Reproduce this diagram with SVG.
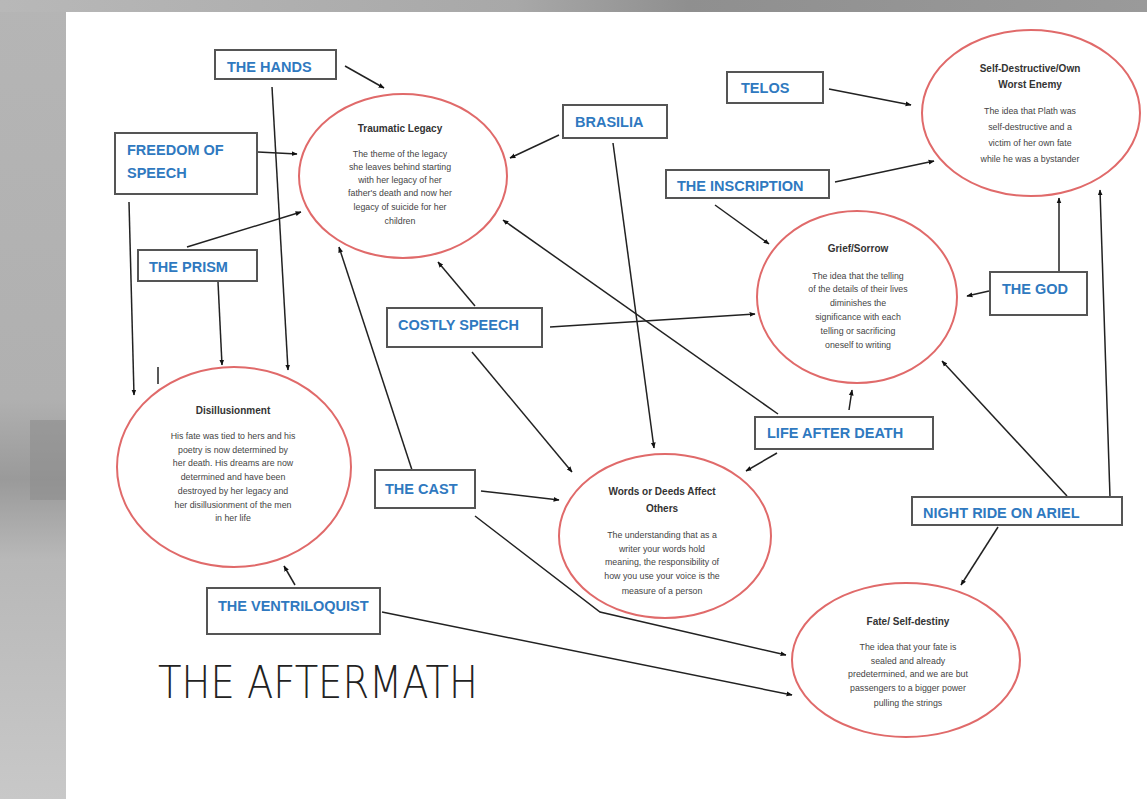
<svg xmlns="http://www.w3.org/2000/svg" width="1147" height="799" viewBox="0 0 1147 799">
<defs>
<marker id="ah" viewBox="0 0 10 10" refX="9" refY="5" markerWidth="6" markerHeight="6" orient="auto" markerUnits="userSpaceOnUse">
<path d="M0,1 L10,5 L0,9 z" fill="#111"/>
</marker>
<linearGradient id="topg" x1="0" y1="0" x2="1" y2="0">
<stop offset="0" stop-color="#b8b8b8"/><stop offset="0.45" stop-color="#a8a8a8"/><stop offset="0.6" stop-color="#8f8f8f"/><stop offset="1" stop-color="#9a9a9a"/>
</linearGradient>
<linearGradient id="leftg" x1="0" y1="0" x2="0" y2="1">
<stop offset="0" stop-color="#b5b5b5"/><stop offset="0.5" stop-color="#b0b0b0"/><stop offset="0.6" stop-color="#9a9a9a"/><stop offset="0.7" stop-color="#b8b8b8"/><stop offset="1" stop-color="#c8c8c8"/>
</linearGradient>
</defs>
<style>
.box{fill:#fff;stroke:#555;stroke-width:2}
.lbl{font-family:"Liberation Sans",Arial,sans-serif;font-weight:bold;font-size:14.5px;fill:#2f79c0}
.ell{fill:#fff;stroke:#e06a6a;stroke-width:2}
.ttl{font-family:"Liberation Sans",Arial,sans-serif;font-weight:bold;font-size:10px;fill:#333;text-anchor:middle}
.bd{font-family:"Liberation Sans",Arial,sans-serif;font-size:8.8px;fill:#444;text-anchor:middle}
.cn{stroke:#222;stroke-width:1.5;fill:none}
.ca{marker-end:url(#ah)}
</style>
<rect x="0" y="0" width="1147" height="799" fill="url(#leftg)"/>
<rect x="0" y="0" width="1147" height="12" fill="url(#topg)"/>
<rect x="30" y="420" width="36" height="80" fill="#8e8e8e" opacity="0.6"/>
<rect x="66" y="12" width="1081" height="787" fill="#fff"/>

<g id="connectors">
<line class="cn ca" x1="345" y1="66" x2="384" y2="88"/>
<line class="cn ca" x1="258" y1="152" x2="297" y2="154"/>
<line class="cn ca" x1="187" y1="247" x2="301" y2="212"/>
<line class="cn ca" x1="272" y1="87" x2="288" y2="370"/>
<line class="cn ca" x1="218" y1="282" x2="222" y2="365"/>
<line class="cn ca" x1="129" y1="202" x2="134" y2="395"/>
<line class="cn" x1="158" y1="367" x2="158" y2="384"/>
<line class="cn ca" x1="412" y1="470" x2="339" y2="247"/>
<line class="cn ca" x1="475" y1="306" x2="438" y2="262"/>
<line class="cn ca" x1="559" y1="135" x2="510" y2="158"/>
<line class="cn ca" x1="778" y1="414" x2="503" y2="220"/>
<line class="cn ca" x1="613" y1="143" x2="654" y2="448"/>
<line class="cn ca" x1="550" y1="327" x2="755" y2="314"/>
<line class="cn ca" x1="472" y1="352" x2="572" y2="472"/>
<line class="cn ca" x1="849" y1="410" x2="852" y2="390"/>
<line class="cn ca" x1="777" y1="453" x2="746" y2="471"/>
<line class="cn ca" x1="989" y1="291" x2="967" y2="296"/>
<line class="cn ca" x1="1059" y1="272" x2="1059" y2="198"/>
<line class="cn ca" x1="1067" y1="496" x2="942" y2="361"/>
<line class="cn ca" x1="1110" y1="497" x2="1100" y2="190"/>
<line class="cn ca" x1="998" y1="527" x2="961" y2="585"/>
<line class="cn ca" x1="829" y1="89" x2="911" y2="105"/>
<line class="cn ca" x1="835" y1="182" x2="934" y2="161"/>
<line class="cn ca" x1="715" y1="205" x2="769" y2="244"/>
<line class="cn ca" x1="481" y1="491" x2="559" y2="500"/>
<polyline class="cn ca" points="475,516 600,612 786,655"/>
<line class="cn ca" x1="382" y1="612" x2="792" y2="695"/>
<line class="cn ca" x1="295" y1="585" x2="284" y2="566"/>
</g>

<g id="traumatic-legacy">
<ellipse class="ell" cx="403" cy="176" rx="104" ry="82"/>
<text class="ttl" x="400" y="132">Traumatic Legacy</text>
<text class="bd" x="400" y="157">The theme of the legacy</text>
<text class="bd" x="400" y="170">she leaves behind starting</text>
<text class="bd" x="400" y="183">with her legacy of her</text>
<text class="bd" x="400" y="196">father's death and now her</text>
<text class="bd" x="400" y="210">legacy of suicide for her</text>
<text class="bd" x="400" y="224">children</text>
</g>

<g id="self-destructive">
<ellipse class="ell" cx="1031" cy="113" rx="109" ry="83"/>
<text class="ttl" x="1030" y="72">Self-Destructive/Own</text>
<text class="ttl" x="1030" y="88">Worst Enemy</text>
<text class="bd" x="1030" y="114">The idea that Plath was</text>
<text class="bd" x="1030" y="130">self-destructive and a</text>
<text class="bd" x="1030" y="146">victim of her own fate</text>
<text class="bd" x="1030" y="162">while he was a bystander</text>
</g>

<g id="grief-sorrow">
<ellipse class="ell" cx="857" cy="297" rx="100" ry="86"/>
<text class="ttl" x="858" y="252">Grief/Sorrow</text>
<text class="bd" x="858" y="279">The idea that the telling</text>
<text class="bd" x="858" y="292">of the details of their lives</text>
<text class="bd" x="858" y="306">diminishes the</text>
<text class="bd" x="858" y="320">significance with each</text>
<text class="bd" x="858" y="334">telling or sacrificing</text>
<text class="bd" x="858" y="348">oneself to writing</text>
</g>

<g id="disillusionment">
<ellipse class="ell" cx="234" cy="467" rx="117" ry="100"/>
<text class="ttl" x="233" y="414">Disillusionment</text>
<text class="bd" x="233" y="439">His fate was tied to hers and his</text>
<text class="bd" x="233" y="453">poetry is now determined by</text>
<text class="bd" x="233" y="466">her death. His dreams are now</text>
<text class="bd" x="233" y="480">determined and have been</text>
<text class="bd" x="233" y="494">destroyed by her legacy and</text>
<text class="bd" x="233" y="508">her disillusionment of the men</text>
<text class="bd" x="233" y="521">in her life</text>
</g>

<g id="words-deeds">
<ellipse class="ell" cx="665" cy="536" rx="106" ry="82"/>
<text class="ttl" x="662" y="495">Words or Deeds Affect</text>
<text class="ttl" x="662" y="512">Others</text>
<text class="bd" x="662" y="538">The understanding that as a</text>
<text class="bd" x="662" y="552">writer your words hold</text>
<text class="bd" x="662" y="565">meaning, the responsibility of</text>
<text class="bd" x="662" y="579">how you use your voice is the</text>
<text class="bd" x="662" y="594">measure of a person</text>
</g>

<g id="fate">
<ellipse class="ell" cx="906" cy="660" rx="114" ry="77"/>
<text class="ttl" x="908" y="625">Fate/ Self-destiny</text>
<text class="bd" x="908" y="650">The idea that your fate is</text>
<text class="bd" x="908" y="664">sealed and already</text>
<text class="bd" x="908" y="677">predetermined, and we are but</text>
<text class="bd" x="908" y="691">passengers to a bigger power</text>
<text class="bd" x="908" y="706">pulling the strings</text>
</g>

<g id="the-hands"><rect class="box" x="215" y="50" width="121" height="29"/><text class="lbl" x="227" y="72">THE HANDS</text></g>
<g id="freedom-of-speech"><rect class="box" x="115" y="133" width="142" height="61"/><text class="lbl" x="127" y="155">FREEDOM OF</text><text class="lbl" x="127" y="178">SPEECH</text></g>
<g id="the-prism"><rect class="box" x="138" y="250" width="119" height="31"/><text class="lbl" x="149" y="272">THE PRISM</text></g>
<g id="brasilia"><rect class="box" x="563" y="105" width="104" height="33"/><text class="lbl" x="575" y="127">BRASILIA</text></g>
<g id="costly-speech"><rect class="box" x="387" y="308" width="155" height="39"/><text class="lbl" x="398" y="330">COSTLY SPEECH</text></g>
<g id="telos"><rect class="box" x="727" y="72" width="96" height="31"/><text class="lbl" x="741" y="93">TELOS</text></g>
<g id="the-inscription"><rect class="box" x="666" y="170" width="163" height="28"/><text class="lbl" x="677" y="191">THE INSCRIPTION</text></g>
<g id="the-god"><rect class="box" x="990" y="272" width="97" height="43"/><text class="lbl" x="1002" y="294">THE GOD</text></g>
<g id="life-after-death"><rect class="box" x="755" y="417" width="178" height="32"/><text class="lbl" x="767" y="438">LIFE AFTER DEATH</text></g>
<g id="night-ride"><rect class="box" x="912" y="497" width="210" height="28"/><text class="lbl" x="923" y="518">NIGHT RIDE ON ARIEL</text></g>
<g id="the-cast"><rect class="box" x="375" y="470" width="100" height="38"/><text class="lbl" x="385" y="494">THE CAST</text></g>
<g id="the-ventriloquist"><rect class="box" x="207" y="588" width="173" height="46"/><text class="lbl" x="218" y="611">THE VENTRILOQUIST</text></g>

<text x="158" y="698" font-family="'DejaVu Sans',sans-serif" font-weight="200" font-size="44" fill="#222" textLength="320" lengthAdjust="spacingAndGlyphs">THE AFTERMATH</text>
</svg>
